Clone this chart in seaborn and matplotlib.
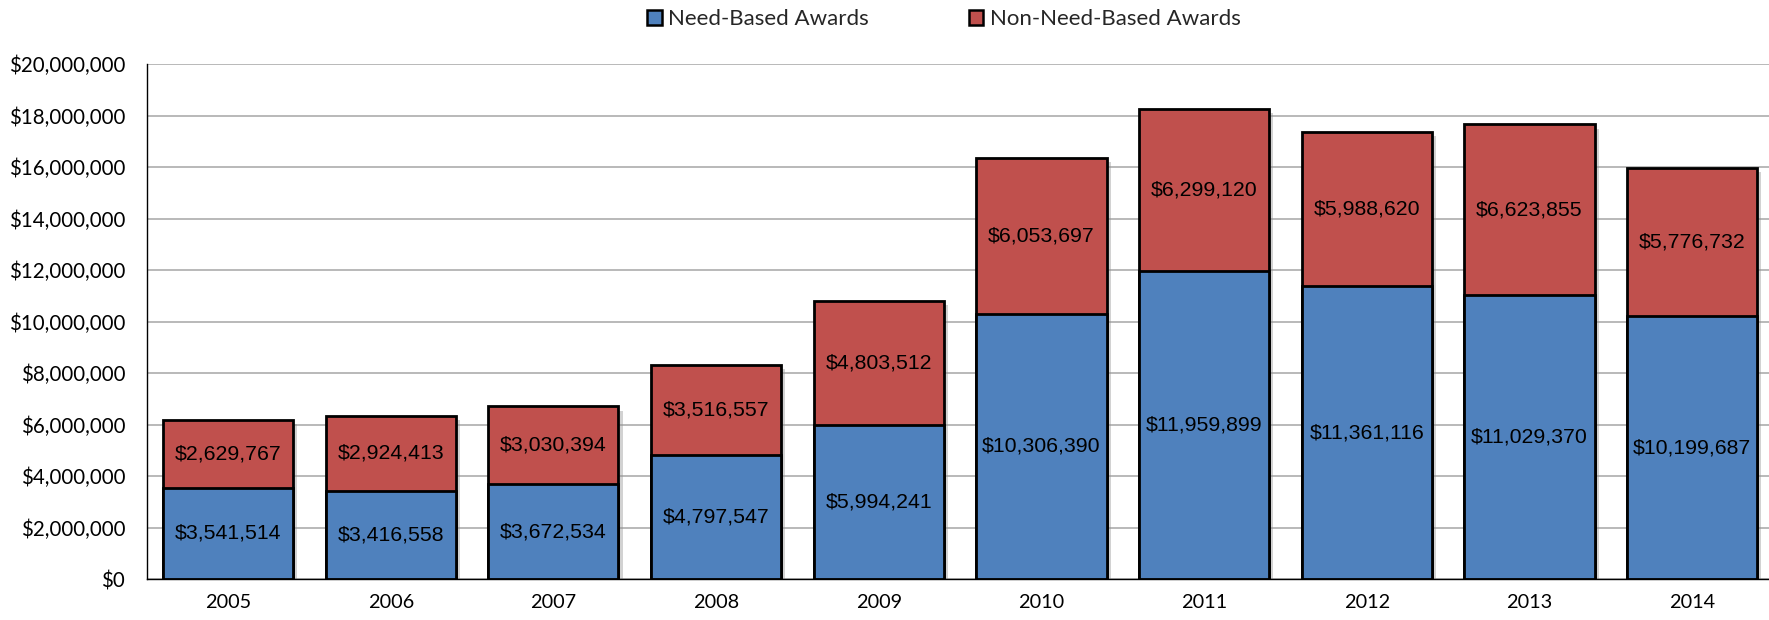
import matplotlib
matplotlib.use("Agg")
import matplotlib.pyplot as plt
import matplotlib.patheffects as pe
from matplotlib.patches import Patch
from matplotlib.ticker import FuncFormatter
import seaborn as sns
import pandas as pd
import numpy as np

years = ["2005", "2006", "2007", "2008", "2009", "2010", "2011", "2012", "2013", "2014"]
need_based = [3541514, 3416558, 3672534, 4797547, 5994241, 10306390, 11959899, 11361116, 11029370, 10199687]
non_need_based = [2629767, 2924413, 3030394, 3516557, 4803512, 6053697, 6299120, 5988620, 6623855, 5776732]
series_names = ["Need-Based Awards", "Non-Need-Based Awards"]
y_ticks = list(range(0, 20000001, 2000000))

BLUE = "#4F81BD"
RED = "#C0504D"

sns.set_theme(style="white")
plt.rcParams["font.family"] = ["Lato", "DejaVu Sans"]

df = pd.DataFrame({"year": years, "need": need_based, "nonneed": non_need_based})
df["total"] = df["need"] + df["nonneed"]

W, H = 1769, 620
fig = plt.figure(figsize=(W / 100, H / 100), dpi=100)
left_px, right_px = 146.7, 1773.5
bottom_px, top_px = 579, 64
ax = fig.add_axes([left_px / W, (H - bottom_px) / H, (right_px - left_px) / W, (bottom_px - top_px) / H])

shadow = [pe.SimplePatchShadow(offset=(3, -3), shadow_rgbFace="#909090", alpha=0.4), pe.Normal()]

sns.barplot(data=df, x="year", y="total", color=RED, saturation=1, width=0.8,
            edgecolor="black", linewidth=2.0, ax=ax, zorder=3)
for p in ax.patches:
    p.set_path_effects(shadow)
sns.barplot(data=df, x="year", y="need", color=BLUE, saturation=1, width=0.8,
            edgecolor="black", linewidth=2.0, ax=ax, zorder=4)

label_font = dict(family=["Liberation Sans", "DejaVu Sans"], size=15.3, color="black")
for i, (nb, nn) in enumerate(zip(need_based, non_need_based)):
    ax.text(i, nb / 2, f"${nb:,.0f}", ha="center", va="center", zorder=6, **label_font)
    ax.text(i, nb + nn / 2, f"${nn:,.0f}", ha="center", va="center", zorder=6, **label_font)

ax.set_xlim(-0.5, 9.5)
ax.set_ylim(0, 20000000)
ax.set_yticks(y_ticks)
ax.yaxis.set_major_formatter(FuncFormatter(lambda v, _: f"${v:,.0f}"))
ax.grid(axis="y", color="#a6a6a6", linewidth=1.1, zorder=0)
ax.set_axisbelow(True)
ax.set_xlabel("")
ax.set_ylabel("")
for s in ["top", "right"]:
    ax.spines[s].set_visible(False)
for s in ["left", "bottom"]:
    ax.spines[s].set_color("black")
    ax.spines[s].set_linewidth(1.0)
    ax.spines[s].set_zorder(5)
ax.tick_params(axis="y", length=0, pad=15.5, labelsize=14.8, labelcolor="black")
ax.tick_params(axis="x", length=0, pad=11, labelsize=14.3, labelcolor="black")

handles = [Patch(facecolor=BLUE, edgecolor="black", linewidth=1.8),
           Patch(facecolor=RED, edgecolor="black", linewidth=1.8)]
leg = fig.legend(handles, series_names, loc="center", bbox_to_anchor=(944 / W, 1 - 19 / H),
                 ncol=2, frameon=False, fontsize=16, handlelength=0.65, handleheight=0.65,
                 handletextpad=0.3, columnspacing=4.5, borderaxespad=0)

fig.savefig("out.png", dpi=100)
